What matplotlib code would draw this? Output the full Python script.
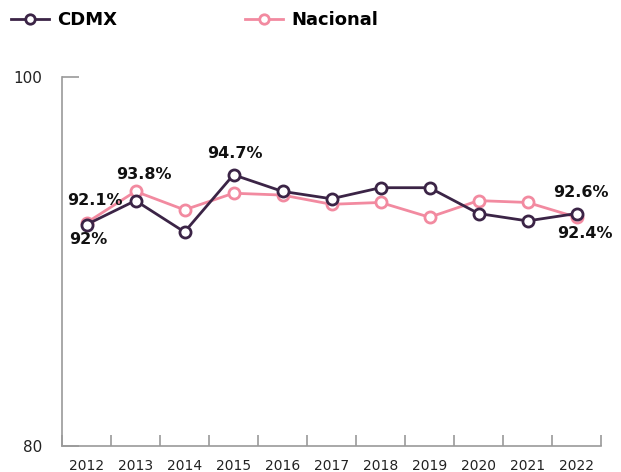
import numpy as np
import matplotlib.pyplot as plt
from matplotlib.ticker import FixedLocator

years = ['2012', '2013', '2014', '2015', '2016', '2017', '2018', '2019', '2020', '2021', '2022']
cdmx = [92.0, 93.3, 91.6, 94.7, 93.8, 93.4, 94.0, 94.0, 92.6, 92.2, 92.6]
nacional = [92.1, 93.8, 92.8, 93.7, 93.6, 93.1, 93.2, 92.4, 93.3, 93.2, 92.4]

c_cdmx = '#3b2446'
c_nac = '#f28aa0'

# (serie, indice, texto, dx, dy) en puntos
labels = [
    ('nac', 0, '92.1%', 6, 16),
    ('cdmx', 0, '92%', 1, -11),
    ('nac', 1, '93.8%', 6, 12),
    ('cdmx', 3, '94.7%', 1, 15),
    ('cdmx', 10, '92.6%', 3, 15),
    ('nac', 10, '92.4%', 6, -12),
]

plt.rcParams['font.family'] = ['DejaVu Sans']

fig = plt.figure(figsize=(6.21, 4.72), dpi=100)
ax = fig.add_axes([62/621, 26/472, 539/621, 369/472])

x = np.arange(len(years))
mk = dict(marker='o', markersize=8, markerfacecolor='white', markeredgewidth=2, linewidth=2)
l2, = ax.plot(x, nacional, color=c_nac, markeredgecolor=c_nac, zorder=2, **mk)
l1, = ax.plot(x, cdmx, color=c_cdmx, markeredgecolor=c_cdmx, zorder=3, **mk)

series = {'cdmx': cdmx, 'nac': nacional}
for s, i, t, dx, dy in labels:
    ax.annotate(t, (x[i], series[s][i]), xytext=(dx, dy), textcoords='offset points',
                ha='center', va='center', fontsize=11.5, fontweight='bold', color='#111111')

ax.set_xlim(-0.5, len(years) - 0.5)
ax.set_ylim(80, 100)
ax.set_xticks(x)
ax.set_xticklabels(years)
ax.xaxis.set_minor_locator(FixedLocator(np.arange(-0.5, len(years), 1.0)))
ax.set_yticks([80, 100])
ax.set_yticklabels(['80', '100'])

ax.tick_params(axis='x', which='major', length=0, pad=9, labelsize=10, labelcolor='#222222')
ax.tick_params(axis='x', which='minor', direction='in', length=8, width=1.2, color='#9a9a9a')
ax.tick_params(axis='y', direction='in', length=12, width=1.2, color='#9a9a9a',
               pad=14, labelsize=11, labelcolor='#222222')

for side in ['top', 'right']:
    ax.spines[side].set_visible(False)
for side in ['left', 'bottom']:
    ax.spines[side].set_color('#9a9a9a')
    ax.spines[side].set_linewidth(1.2)

leg = fig.legend([l1, l2], ['CDMX', 'Nacional'], loc='center left',
                 bbox_to_anchor=(11/621, 1 - 20/472), ncol=2, frameon=False,
                 prop={'size': 13, 'weight': 'bold'}, handlelength=2.1, markerscale=0.85,
                 handletextpad=0.45, columnspacing=7.1, borderpad=0, borderaxespad=0)

fig.savefig('out.png', dpi=100)
